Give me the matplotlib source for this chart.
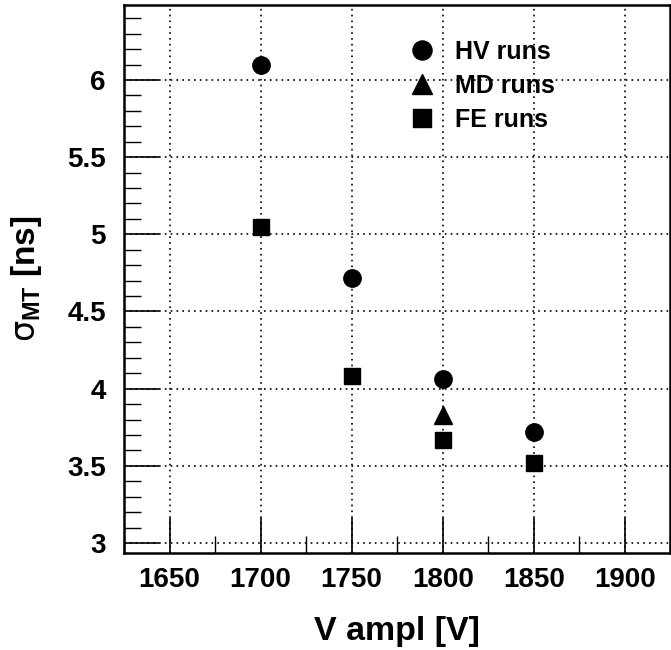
import numpy as np
import matplotlib
matplotlib.use("Agg")
from matplotlib import pyplot as plt
from matplotlib.ticker import MultipleLocator

# data
hv_v = [1700, 1750, 1800, 1850]
hv_sigma = [6.10, 4.72, 4.06, 3.72]
md_v = [1800]
md_sigma = [3.83]
fe_v = [1700, 1750, 1800, 1850]
fe_sigma = [5.05, 4.08, 3.67, 3.52]

plt.rcParams['font.family'] = ['Liberation Sans', 'DejaVu Sans']
plt.rcParams['font.weight'] = 'bold'
plt.rcParams['mathtext.fontset'] = 'custom'
plt.rcParams['mathtext.rm'] = 'Liberation Sans:bold'
plt.rcParams['mathtext.bf'] = 'Liberation Sans:bold'
plt.rcParams['mathtext.it'] = 'DejaVu Sans:normal'


def main():
    fig = plt.figure(figsize=(6.71, 6.5), dpi=100)
    ax = fig.add_axes([0.1848, 0.1497, 0.8142, 0.8426])

    ax.plot(hv_v, hv_sigma, 'o', color='black', markersize=12.5, label='HV runs')
    ax.plot(md_v, md_sigma, '^', color='black', markersize=12.5, label='MD runs')
    ax.plot(fe_v, fe_sigma, 's', color='black', markersize=12, label='FE runs')

    ax.xaxis.set_major_locator(MultipleLocator(50))
    ax.xaxis.set_minor_locator(MultipleLocator(25))
    ax.yaxis.set_major_locator(MultipleLocator(0.5))
    ax.yaxis.set_minor_locator(MultipleLocator(0.1))
    ax.set_xlim(1625, 1925)
    ax.set_ylim(2.937, 6.486)
    ax.set_yticks([3, 3.5, 4, 4.5, 5, 5.5, 6])
    ax.set_yticklabels(['3', '3.5', '4', '4.5', '5', '5.5', '6'])

    ax.tick_params(which='major', direction='in', length=25, width=1.2,
                   labelsize=20, top=False, right=False)
    ax.tick_params(axis='x', which='major', pad=10)
    ax.tick_params(axis='y', which='major', pad=13)
    ax.tick_params(which='minor', direction='in', length=12, width=1.0,
                   top=False, right=False)

    ax.grid(True, which='major', linestyle=(0, (1, 2.5)), color='black', linewidth=1.2)
    for s in ax.spines.values():
        s.set_linewidth(1.8)

    ax.set_xlabel('V ampl [V]', fontsize=24.5, fontweight='bold', labelpad=17)
    ax.set_ylabel(r'$\sigma_{\mathbf{MT}}$ [ns]', fontsize=24, fontweight='bold', labelpad=17)

    ax.legend(loc='upper left', bbox_to_anchor=(0.5, 0.955), frameon=False,
              fontsize=18, handletextpad=0.7, labelspacing=0.4,
              borderaxespad=0, handlelength=1.2, markerscale=1.1)

    fig.savefig('out.png', dpi=100)
    return


if __name__ == "__main__":
    main()
